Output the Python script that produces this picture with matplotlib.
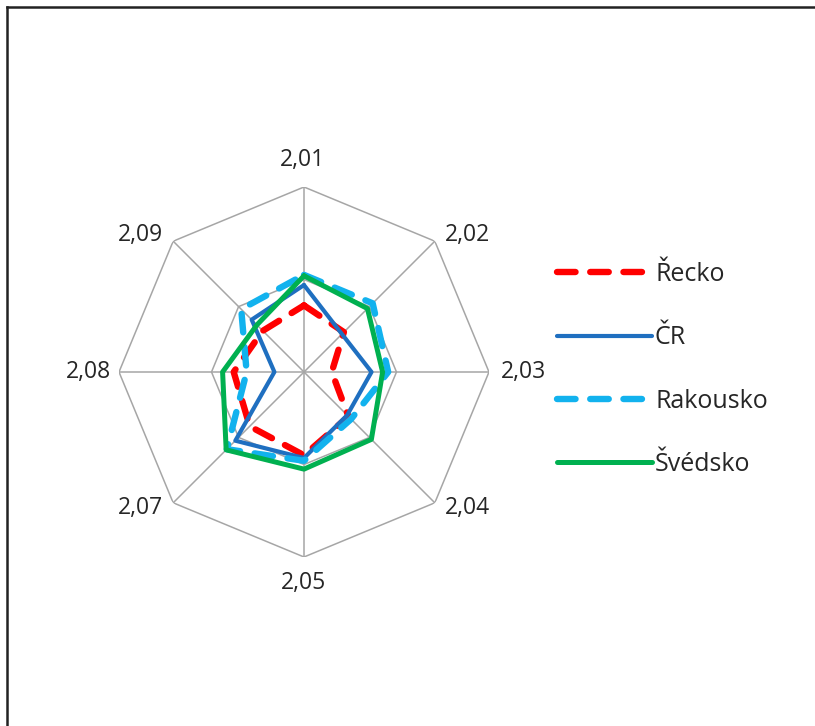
import numpy as np
import matplotlib
matplotlib.use("Agg")
import matplotlib.pyplot as plt
from matplotlib.lines import Line2D

plt.rcParams['font.family'] = ['Open Sans', 'DejaVu Sans']

categories = ["2,01", "2,02", "2,03", "2,04", "2,05", "2,07", "2,08", "2,09"]
series_names = ["Řecko", "ČR", "Rakousko", "Švédsko"]
recko = [0.72, 0.61, 0.30, 0.68, 0.90, 0.83, 0.76, 0.63]
cr = [0.94, 0.58, 0.73, 0.66, 0.93, 1.05, 0.32, 0.80]
rakousko = [1.05, 1.05, 0.91, 0.72, 0.96, 1.18, 0.62, 0.96]
svedsko = [1.04, 0.97, 0.85, 1.03, 1.05, 1.19, 0.88, 0.72]
grid_levels = [1.0, 2.0]
r_max = 2.0

W, H = 815, 726
fig = plt.figure(figsize=(W / 100, H / 100), dpi=100)

cx, cy, R = 304, 372, 185
ax = fig.add_axes([(cx - R) / W, (H - cy - R) / H, 2 * R / W, 2 * R / H], projection='polar')
ax.set_theta_zero_location('N')
ax.set_theta_direction(-1)
ax.set_ylim(0, r_max)
ax.grid(False)
ax.spines['polar'].set_visible(False)
ax.set_xticks([])
ax.set_yticks([])
ax.patch.set_alpha(0)

n = len(categories)
theta = np.arange(n) * 2 * np.pi / n
theta_closed = np.append(theta, theta[0])

grid_color = '#A6A6A6'
for lvl in grid_levels:
    ax.plot(theta_closed, [lvl] * (n + 1), color=grid_color, lw=1.1, zorder=1)
for t in theta:
    ax.plot([t, t], [0, r_max], color=grid_color, lw=1.1, zorder=1)

# label offsets (pixels) relative to outer vertex
offsets = [(-2, 27), (33, 6), (34, 0), (33, -5), (-1, -26), (-33, -5), (-31, 0), (-33, 6)]
for t, lab, off in zip(theta, categories, offsets):
    ax.annotate(lab, xy=(t, r_max), xycoords='data', xytext=off, textcoords='offset pixels',
                ha='center', va='center', fontsize=16.5, color='#262626', annotation_clip=False)

styles = [
    dict(color='#FF0000', lw=4.6, dashes=(2.9, 2.3), dash_capstyle='round'),
    dict(color='#1F6FC0', lw=3.0, solid_capstyle='round', solid_joinstyle='round'),
    dict(color='#12B2EE', lw=4.6, dashes=(2.9, 2.3), dash_capstyle='round'),
    dict(color='#00B050', lw=3.6, solid_capstyle='round', solid_joinstyle='round'),
]
handles = []
for name, vals, st in zip(series_names, [recko, cr, rakousko, svedsko], styles):
    v = np.append(vals, vals[0])
    ln, = ax.plot(theta_closed, v, label=name, zorder=3, **st)
    handles.append(ln)

fig.legend(handles=handles, labels=series_names, loc='upper left',
           bbox_to_anchor=(557 / W, (H - 262) / H), frameon=False,
           fontsize=18, handlelength=3.8, handletextpad=0.12,
           labelspacing=1.53, borderpad=0, borderaxespad=0,
           labelcolor='#262626')

# outer frame lines (left and top)
fig.add_artist(Line2D([7 / W, 7 / W], [0, (H - 7) / H], color='#222222', lw=1.8, transform=fig.transFigure))
fig.add_artist(Line2D([7 / W, 1], [(H - 7) / H, (H - 7) / H], color='#222222', lw=1.8, transform=fig.transFigure))

fig.savefig('out.png', dpi=100)
